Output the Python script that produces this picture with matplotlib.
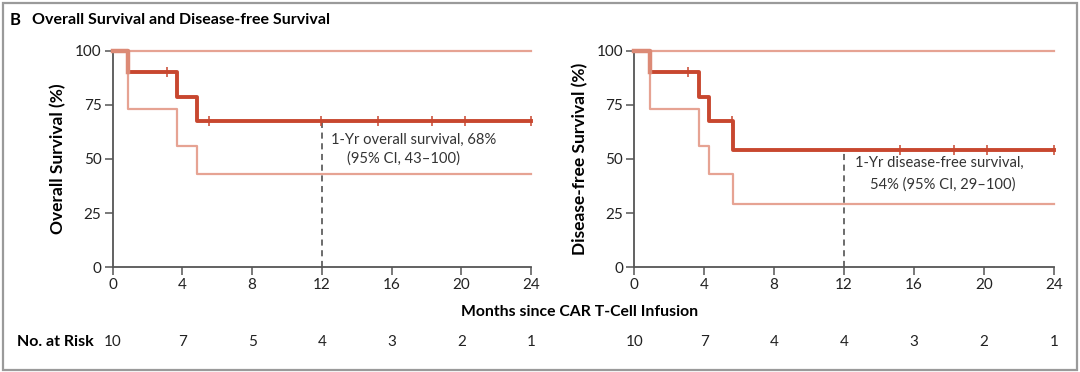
import matplotlib.pyplot as plt
from matplotlib.patches import Rectangle
from matplotlib.transforms import blended_transform_factory

plt.rcParams['font.family'] = ['Lato', 'DejaVu Sans']

# overall survival (left)
os_t = [0, 0.87, 3.71, 4.86, 24]
os_s = [100, 90, 78.75, 67.5, 67.5]
os_lo = [100, 73, 56, 43, 43]
os_hi = [100, 100, 100, 100, 100]
os_cens = [3.1, 5.5, 11.96, 15.2, 18.3, 20.2, 24]
os_1yr = 67.5
os_risk = [10, 7, 5, 4, 3, 2, 1]

# disease-free survival (right)
dfs_t = [0, 0.87, 3.68, 4.27, 5.66, 24]
dfs_s = [100, 90, 78.75, 67.5, 54, 54]
dfs_lo = [100, 73, 56, 43, 29, 29]
dfs_hi = [100, 100, 100, 100, 100, 100]
dfs_cens = [3.07, 5.58, 15.2, 18.3, 20.2, 24]
dfs_1yr = 54
dfs_risk = [10, 7, 4, 4, 3, 2, 1]

xticks = [0, 4, 8, 12, 16, 20, 24]
yticks = [0, 25, 50, 75, 100]

DARK = '#c8472f'
LIGHT = '#e6a393'
START = '#dc8a76'

fig = plt.figure(figsize=(10.8, 3.72), dpi=100)
fig.patches.append(Rectangle((0.003, 0.005), 0.994, 0.988, transform=fig.transFigure,
                             fill=False, edgecolor='#9a9a9a', lw=1.6))
fig.text(0.009, 0.945, 'B', fontsize=12, fontweight='bold', va='center')
fig.text(0.030, 0.945, 'Overall Survival and Disease-free Survival', fontsize=11.5,
         fontweight='bold', va='center')

ax1 = fig.add_axes([0.1043, 0.2815, 0.3874, 0.5822])
ax2 = fig.add_axes([0.5874, 0.2815, 0.3883, 0.5822])


def km(ax, t, s, lo, hi, cens, yr, ylabel):
    ax.step(t, hi, where='post', color=LIGHT, lw=1.6, zorder=2, clip_on=False)
    ax.step(t, lo, where='post', color=LIGHT, lw=1.6, zorder=2, clip_on=False)
    ax.step(t[1:], s[1:], where='post', color=DARK, lw=2.8, zorder=3, clip_on=False)
    ax.step(t[:2], s[:2], where='post', color=START, lw=3.2, zorder=3, clip_on=False)
    ys = [s[max(i for i in range(len(t)) if t[i] <= c)] for c in cens]
    ax.plot(cens, ys, ls='none', marker='|', ms=7, mew=1.1, color=DARK, zorder=4,
            clip_on=False)
    ax.plot([12, 12], [0, yr], ls=(0, (4, 3)), color='#444444', lw=1.1, zorder=1)
    ax.set_xlim(0, 24)
    ax.set_ylim(0, 100)
    ax.set_xticks(xticks)
    ax.set_yticks(yticks)
    for sp in ['top', 'right']:
        ax.spines[sp].set_visible(False)
    for sp in ['left', 'bottom']:
        ax.spines[sp].set_color('#555555')
        ax.spines[sp].set_linewidth(1.3)
    ax.tick_params(direction='out', length=6, width=1.1, color='#555555',
                   labelsize=11, labelcolor='#222222', pad=2)
    ax.set_ylabel(ylabel, fontsize=12.5, fontweight='bold', labelpad=6)


km(ax1, os_t, os_s, os_lo, os_hi, os_cens, os_1yr, 'Overall Survival (%)')
km(ax2, dfs_t, dfs_s, dfs_lo, dfs_hi, dfs_cens, dfs_1yr, 'Disease-free Survival (%)')

ax1.text(12.5, 59, '1-Yr overall survival, 68%', fontsize=10.6, color='#333333', va='center')
ax1.text(13.45, 50.3, '(95% CI, 43\u2013100)', fontsize=10.6, color='#333333', va='center')
ax2.text(12.6, 48, '1-Yr disease-free survival,', fontsize=10.6, color='#333333', va='center')
ax2.text(13.5, 38, '54% (95% CI, 29\u2013100)', fontsize=10.6, color='#333333', va='center')

fig.text(0.537, 0.162, 'Months since CAR T-Cell Infusion', fontsize=11.3,
         fontweight='bold', ha='center', va='center')

fig.text(0.016, 0.08, 'No. at Risk', fontsize=11.5, fontweight='bold', va='center')
for ax, risk in [(ax1, os_risk), (ax2, dfs_risk)]:
    tr = blended_transform_factory(ax.transData, fig.transFigure)
    for x, n in zip(xticks, risk):
        ax.text(x, 0.08, str(n), transform=tr, ha='center', va='center',
                fontsize=11, color='#222222', clip_on=False)

fig.savefig('out.png', dpi=100)
